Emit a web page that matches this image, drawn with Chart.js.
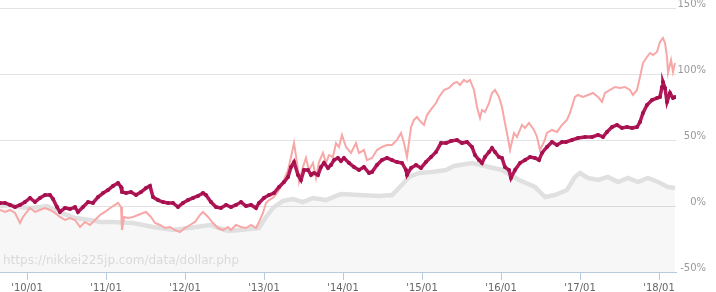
<!DOCTYPE html>
<html>
<head>
<meta charset="utf-8">
<script src="https://cdn.jsdelivr.net/npm/chart.js@4/dist/chart.umd.min.js"></script>
<style>
html,body{margin:0;padding:0;background:#fff;}
#wrap{width:716px;height:292px;position:relative;}
</style>
</head>
<body>
<div id="wrap"><canvas id="c"></canvas></div>
<script>
// ---- data (x = decimal year, y = % change) ----
const tickYears  = [2010, 2011, 2012, 2013, 2014, 2015, 2016, 2017, 2018];
const tickLabels = ["'10/01", "'11/01", "'12/01", "'13/01", "'14/01", "'15/01", "'16/01", "'17/01", "'18/01"];
const yTickValues = [-50, 0, 50, 100, 150];
const watermark = "https://nikkei225jp.com/data/dollar.php";

const darkDates = [2009.658,2009.721,2009.785,2009.848,2009.911,2009.974,2010.038,2010.101,2010.164,2010.228,2010.291,2010.329,2010.380,2010.417,2010.481,2010.544,2010.607,2010.645,2010.709,2010.772,2010.835,2010.899,2010.962,2011.025,2011.088,2011.152,2011.190,2011.202,2011.253,2011.316,2011.380,2011.443,2011.506,2011.557,2011.595,2011.658,2011.721,2011.785,2011.848,2011.911,2011.974,2012.038,2012.101,2012.164,2012.228,2012.265,2012.329,2012.392,2012.455,2012.519,2012.582,2012.645,2012.709,2012.772,2012.835,2012.899,2012.936,2012.999,2013.063,2013.126,2013.190,2013.253,2013.304,2013.342,2013.380,2013.430,2013.468,2013.506,2013.557,2013.595,2013.633,2013.683,2013.721,2013.759,2013.810,2013.848,2013.886,2013.936,2013.974,2014.012,2014.076,2014.139,2014.202,2014.265,2014.329,2014.367,2014.430,2014.493,2014.557,2014.620,2014.683,2014.747,2014.797,2014.810,2014.861,2014.924,2014.987,2015.050,2015.114,2015.177,2015.240,2015.304,2015.367,2015.443,2015.506,2015.569,2015.633,2015.671,2015.721,2015.759,2015.797,2015.848,2015.886,2015.924,2015.974,2016.012,2016.050,2016.101,2016.126,2016.177,2016.240,2016.304,2016.367,2016.430,2016.481,2016.519,2016.582,2016.645,2016.709,2016.772,2016.822,2016.898,2016.974,2017.063,2017.152,2017.228,2017.291,2017.341,2017.405,2017.468,2017.531,2017.595,2017.658,2017.721,2017.759,2017.797,2017.848,2017.911,2017.974,2018.012,2018.038,2018.050,2018.076,2018.101,2018.139,2018.177,2018.202];
const darkValues = [2.3,2.3,0.8,-0.8,0.8,3.0,6.1,3.0,6.1,8.3,8.3,5.3,-0.8,-4.5,-1.5,-2.3,-0.8,-4.5,-0.8,3.0,2.3,6.8,9.8,12.1,15.2,17.4,14.4,10.6,9.8,10.6,8.3,10.6,13.6,15.2,6.8,4.5,3.0,2.3,2.3,-0.8,2.3,4.5,6.1,7.6,9.8,8.3,3.0,-0.8,-1.5,0.8,-0.8,0.8,3.0,0,0.8,-1.5,2.3,6.1,8.3,9.8,14.4,18.2,22.0,29.5,33.3,23.5,19.7,27.3,27.3,23.5,25.0,23.5,29.5,32.6,28.8,31.1,34.8,36.4,34.1,36.4,32.6,29.5,27.3,29.5,25.0,25.8,31.1,34.8,36.4,34.8,33.3,32.6,27.3,23.5,28.8,31.1,28.8,33.3,37.1,40.9,47.7,47.7,49.2,50.0,47.7,48.5,44.7,38.6,34.8,32.6,37.1,40.9,43.9,40.9,37.1,36.4,29.5,27.3,21.2,27.3,32.6,34.8,37.1,36.4,34.8,40.2,44.7,48.5,46.2,48.5,48.5,50.0,51.5,52.3,52.3,53.8,52.3,56.1,59.8,61.4,59.1,59.8,59.1,59.8,63.6,70.5,76.5,80.3,81.8,82.6,90.2,93.9,89.4,78.8,85.6,81.8,82.6];

const pinkDates = [2009.658,2009.721,2009.785,2009.848,2009.911,2009.949,2010.038,2010.101,2010.164,2010.228,2010.291,2010.354,2010.417,2010.481,2010.544,2010.607,2010.671,2010.734,2010.797,2010.861,2010.924,2010.987,2011.051,2011.114,2011.152,2011.190,2011.202,2011.228,2011.278,2011.342,2011.405,2011.468,2011.506,2011.569,2011.620,2011.683,2011.747,2011.810,2011.873,2011.936,2011.999,2012.063,2012.126,2012.190,2012.228,2012.291,2012.354,2012.417,2012.481,2012.544,2012.582,2012.645,2012.709,2012.772,2012.835,2012.899,2012.936,2012.987,2013.025,2013.063,2013.126,2013.190,2013.253,2013.304,2013.342,2013.380,2013.418,2013.443,2013.493,2013.531,2013.569,2013.620,2013.658,2013.696,2013.746,2013.785,2013.823,2013.873,2013.911,2013.949,2013.987,2014.038,2014.101,2014.164,2014.202,2014.265,2014.303,2014.367,2014.430,2014.493,2014.557,2014.620,2014.683,2014.734,2014.772,2014.810,2014.861,2014.898,2014.936,2014.987,2015.025,2015.063,2015.126,2015.177,2015.215,2015.278,2015.341,2015.405,2015.443,2015.481,2015.531,2015.569,2015.607,2015.658,2015.696,2015.734,2015.759,2015.797,2015.848,2015.886,2015.924,2015.974,2016.012,2016.050,2016.088,2016.114,2016.164,2016.202,2016.266,2016.304,2016.354,2016.417,2016.456,2016.493,2016.544,2016.582,2016.645,2016.709,2016.772,2016.835,2016.873,2016.936,2016.974,2017.038,2017.101,2017.164,2017.228,2017.278,2017.316,2017.380,2017.443,2017.506,2017.569,2017.633,2017.670,2017.721,2017.759,2017.797,2017.848,2017.886,2017.924,2017.974,2018.012,2018.050,2018.076,2018.101,2018.114,2018.152,2018.177,2018.202];
const pinkValues = [-3.0,-4.5,-3.0,-5.3,-12.9,-8.3,-1.5,-4.5,-3.0,-1.5,-3.0,-5.3,-8.3,-10.6,-9.1,-10.6,-15.9,-12.1,-14.4,-10.6,-6.8,-4.5,-1.5,0.8,2.3,-0.8,-18.2,-8.3,-9.1,-8.3,-6.8,-5.3,-4.5,-8.3,-12.9,-14.4,-16.7,-15.9,-18.2,-19.7,-16.7,-14.4,-12.1,-6.8,-4.5,-8.3,-12.9,-16.7,-18.2,-15.9,-18.2,-14.4,-15.9,-16.7,-14.4,-16.7,-12.1,-5.3,2.3,4.5,6.8,12.1,19.7,27.3,37.1,47.7,32.6,18.2,29.5,36.4,27.3,32.6,21.2,33.3,40.2,32.6,38.6,37.1,47.7,44.7,53.8,44.7,40.2,47.7,40.2,42.4,34.8,36.4,42.4,44.7,46.2,46.2,50.0,55.3,47.7,37.1,59.8,65.2,67.4,63.6,61.4,68.9,74.2,78.0,82.6,87.9,89.4,93.2,93.9,91.7,95.5,93.9,95.5,87.9,75.0,66.7,72.7,71.2,78.0,85.6,87.9,82.6,75.0,62.9,51.5,42.4,55.3,52.3,61.4,59.1,62.9,57.6,52.3,42.4,48.5,55.3,57.6,56.1,61.4,65.2,70.5,82.6,84.1,82.6,84.1,85.6,82.6,78.8,85.6,87.9,90.2,89.4,90.2,87.9,84.1,87.9,97.7,108.3,112.9,115.9,114.4,116.7,124.2,127.3,123.5,112.9,100.8,110.6,101.5,108.3];

const grayDates = [2009.658,2009.785,2009.911,2010.038,2010.164,2010.253,2010.354,2010.481,2010.607,2010.797,2010.924,2011.088,2011.342,2011.595,2011.848,2012.139,2012.316,2012.544,2012.696,2012.936,2013.025,2013.114,2013.240,2013.367,2013.493,2013.620,2013.785,2013.974,2014.202,2014.455,2014.620,2014.734,2014.835,2014.962,2015.126,2015.304,2015.405,2015.633,2015.848,2016.012,2016.228,2016.430,2016.557,2016.683,2016.835,2016.936,2017.000,2017.101,2017.228,2017.354,2017.481,2017.607,2017.734,2017.860,2017.987,2018.114,2018.202];
const grayValues = [0,0.8,-0.8,-1.5,-0.8,0,-3.0,-6.1,-9.1,-10.6,-12.1,-12.1,-12.9,-15.9,-18.2,-15.9,-14.4,-18.9,-18.2,-16.7,-8.3,-1.5,3.8,5.3,3.0,6.1,4.5,9.1,8.3,7.6,8.3,15.2,22.0,25.0,25.8,27.3,30.3,32.6,29.5,27.3,19.7,14.4,6.8,8.3,12.1,22.0,25.0,21.2,19.7,22.0,18.2,21.2,18.2,21.2,18.2,14.4,13.6];

const toPoints = (xs, ys) => xs.map((x, i) => ({x: x, y: ys[i]}));

const watermarkPlugin = {
  id: 'watermark',
  afterDatasetsDraw(chart) {
    const ctx = chart.ctx, a = chart.chartArea;
    ctx.save();
    ctx.font = '12px "DejaVu Sans"';
    ctx.fillStyle = '#d9d9d9';
    ctx.textBaseline = 'middle';
    ctx.textAlign = 'left';
    ctx.fillText(watermark, a.left + 3, a.bottom - 11);
    ctx.restore();
  }
};

new Chart(document.getElementById('c'), {
  type: 'line',
  data: {
    datasets: [
      {
        label: 'dark',
        data: toPoints(darkDates, darkValues),
        borderColor: '#b3185a',
        backgroundColor: '#b3185a',
        borderWidth: 3.5,
        pointRadius: 2,
        pointBorderWidth: 0,
        pointBackgroundColor: '#a3104c',
        tension: 0,
        fill: false,
        order: 1
      },
      {
        label: 'pink',
        data: toPoints(pinkDates, pinkValues),
        borderColor: '#f8a7a7',
        borderWidth: 2,
        pointRadius: 0,
        tension: 0,
        fill: false,
        order: 2
      },
      {
        label: 'gray',
        data: toPoints(grayDates, grayValues),
        borderColor: '#e0e0e0',
        backgroundColor: 'rgba(0,0,0,0.03)',
        borderWidth: 4.5,
        pointRadius: 0,
        tension: 0,
        fill: 'start',
        order: 3
      }
    ]
  },
  options: {
    responsive: true,
    maintainAspectRatio: false,
    animation: false,
    devicePixelRatio: 1,
    layout: { autoPadding: false, padding: { top: 8, left: 0, right: 10, bottom: 0 } },
    plugins: { legend: { display: false }, tooltip: { enabled: false } },
    scales: {
      x: {
        type: 'linear',
        min: 2009.658,
        max: 2018.215,
        afterBuildTicks: s => { s.ticks = tickYears.map(v => ({ value: v })); },
        afterFit: s => { s.height = 20; s.paddingLeft = 0; s.paddingRight = 0; },
        ticks: {
          callback: v => tickLabels[tickYears.indexOf(v)],
          color: '#666',
          font: { family: 'DejaVu Sans', size: 10 },
          padding: 2,
          maxRotation: 0,
          autoSkip: false
        },
        grid: { drawOnChartArea: false, drawTicks: true, tickLength: 8, color: '#b8cadb' },
        border: { display: true, color: '#b8cadb', width: 1 }
      },
      y: {
        position: 'right',
        min: -50,
        max: 150,
        afterBuildTicks: s => { s.ticks = yTickValues.map(v => ({ value: v })); },
        afterFit: s => { s.width = 30; s.paddingTop = 0; s.paddingBottom = 0; },
        ticks: {
          callback: v => v + '%',
          color: '#999',
          font: { family: 'DejaVu Sans', size: 10 },
          padding: 2,
          crossAlign: 'far',
          labelOffset: -4
        },
        grid: { color: '#e3e3e3', drawTicks: false },
        border: { display: false }
      }
    }
  },
  plugins: [watermarkPlugin]
});
</script>
</body>
</html>
